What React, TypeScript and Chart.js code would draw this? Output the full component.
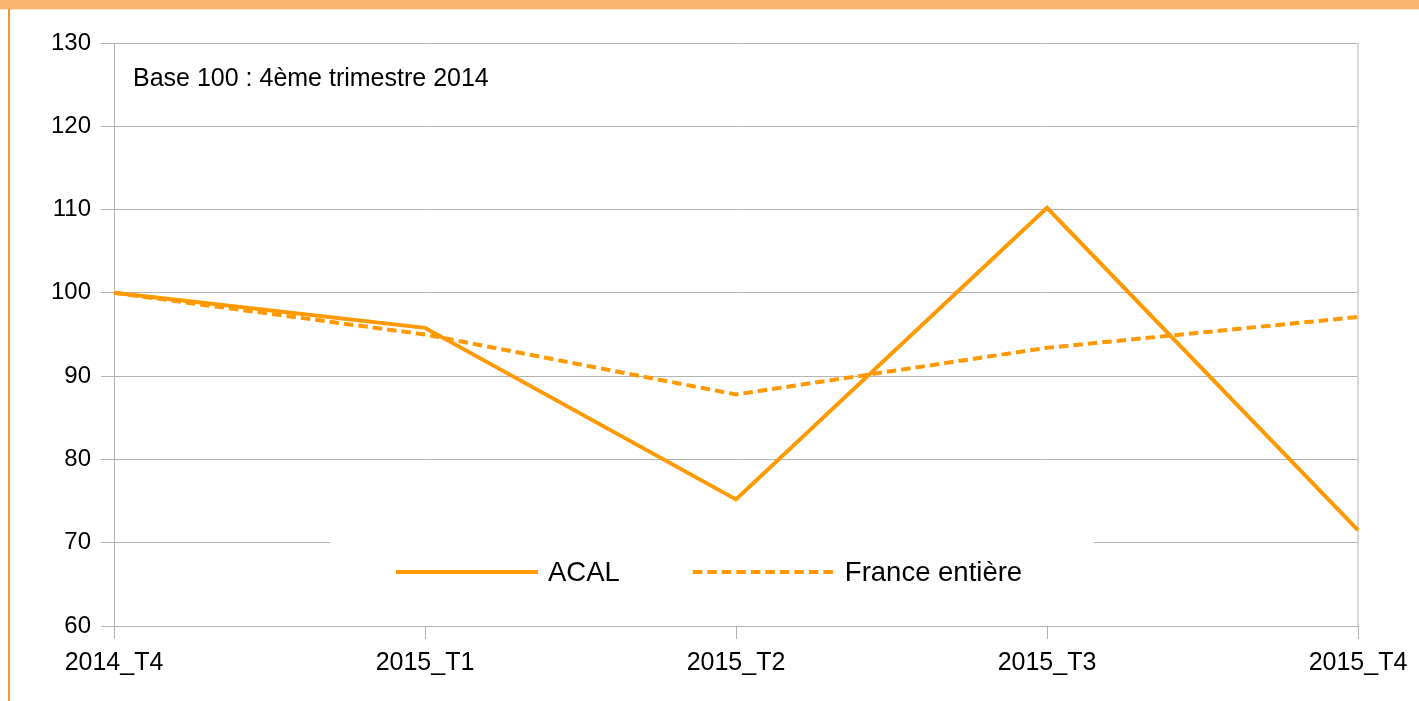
import React, { useEffect, useRef } from 'react';
import { Chart, registerables } from 'chart.js';

Chart.register(...registerables);

const categories = ['2014_T4', '2015_T1', '2015_T2', '2015_T3', '2015_T4'];
const acalValues = [100, 95.8, 75.2, 110.2, 71.5];
const franceValues = [100, 95.0, 87.8, 93.4, 97.1];
const seriesLabels = ['ACAL', 'France entière'];
const annotationText = 'Base 100 : 4ème trimestre 2014';
const yMin = 60;
const yMax = 130;
const yStep = 10;

const FONT = '"Liberation Sans", Arial, sans-serif';
const ORANGE = '#ff9900';
const GRID = '#b3b3b3';

const decorPlugin = {
  id: 'decor',
  beforeDraw(chart: any) {
    const ctx = chart.ctx;
    ctx.save();
    ctx.fillStyle = '#ffffff';
    ctx.fillRect(0, 0, chart.width, chart.height);
    ctx.fillStyle = '#f9b572';
    ctx.fillRect(0, 0, chart.width, 9);
    ctx.fillStyle = '#fde3c6';
    ctx.fillRect(0, 9, chart.width, 1);
    ctx.fillStyle = '#f39a2e';
    ctx.fillRect(8, 9, 2, chart.height - 9);
    ctx.restore();
  },
  beforeDatasetsDraw(chart: any) {
    const { ctx, chartArea } = chart;
    ctx.save();
    ctx.fillStyle = '#d9d9d9';
    ctx.fillRect(chartArea.right - 1, chartArea.top, 2, chartArea.bottom - chartArea.top);
    // legend background
    ctx.fillStyle = '#ffffff';
    ctx.fillRect(330, 536, 764, 72);
    ctx.restore();
  },
  afterDraw(chart: any) {
    const ctx = chart.ctx;
    ctx.save();
    // annotation
    ctx.font = `25px ${FONT}`;
    ctx.fillStyle = '#000';
    ctx.textAlign = 'left';
    ctx.textBaseline = 'alphabetic';
    ctx.fillText(annotationText, 133, 86);
    // legend
    const ly = 572;
    let x = 396;
    chart.data.datasets.forEach((ds: any) => {
      ctx.strokeStyle = ds.borderColor;
      ctx.lineWidth = 4;
      ctx.lineCap = 'butt';
      ctx.setLineDash(ds.borderDash || []);
      ctx.beginPath();
      ctx.moveTo(x, ly);
      ctx.lineTo(x + 142, ly);
      ctx.stroke();
      ctx.setLineDash([]);
      ctx.font = `27.5px ${FONT}`;
      ctx.fillStyle = '#000';
      ctx.textBaseline = 'middle';
      ctx.fillText(ds.label, x + 152, ly + 1);
      x = x + 152 + ctx.measureText(ds.label).width + 73;
    });
    ctx.restore();
  },
};

export default function App() {
  const canvasRef = useRef<HTMLCanvasElement | null>(null);

  useEffect(() => {
    if (!canvasRef.current) return;
    const chart = new Chart(canvasRef.current, {
      type: 'line',
      data: {
        labels: categories,
        datasets: [
          {
            label: seriesLabels[0],
            data: acalValues,
            borderColor: ORANGE,
            backgroundColor: ORANGE,
            borderWidth: 4,
            pointRadius: 0,
            tension: 0,
            borderJoinStyle: 'miter',
            fill: false,
          },
          {
            label: seriesLabels[1],
            data: franceValues,
            borderColor: ORANGE,
            backgroundColor: ORANGE,
            borderWidth: 4,
            borderDash: [9.5, 5],
            pointRadius: 0,
            tension: 0,
            fill: false,
          },
        ],
      },
      options: {
        animation: false,
        responsive: false,
        maintainAspectRatio: false,
        devicePixelRatio: 1,
        layout: { padding: { top: 43, right: 61, left: 0, bottom: 0 } },
        plugins: {
          legend: { display: false },
          tooltip: { enabled: false },
        },
        scales: {
          x: {
            type: 'category',
            offset: false,
            grid: {
              drawOnChartArea: false,
              drawTicks: true,
              tickLength: 13,
              color: GRID,
              lineWidth: 1,
            },
            border: { display: false },
            ticks: {
              font: { family: FONT, size: 25 },
              color: '#000',
              padding: 9,
              maxRotation: 0,
              autoSkip: false,
            },
            afterFit: (s: any) => {
              s.height = 75;
            },
          },
          y: {
            min: yMin,
            max: yMax,
            ticks: {
              stepSize: yStep,
              font: { family: FONT, size: 24 },
              color: '#000',
              padding: 10,
            },
            grid: { color: GRID, tickLength: 13, lineWidth: 1 },
            border: { display: true, color: GRID },
            afterFit: (s: any) => {
              s.width = 114;
            },
          },
        },
      } as any,
      plugins: [decorPlugin],
    });
    return () => chart.destroy();
  }, []);

  return (
    <div style={{ position: 'fixed', left: 0, top: 0, width: 1419, height: 701, background: '#fff' }}>
      <canvas ref={canvasRef} width={1419} height={701} style={{ width: 1419, height: 701, display: 'block' }} />
    </div>
  );
}
